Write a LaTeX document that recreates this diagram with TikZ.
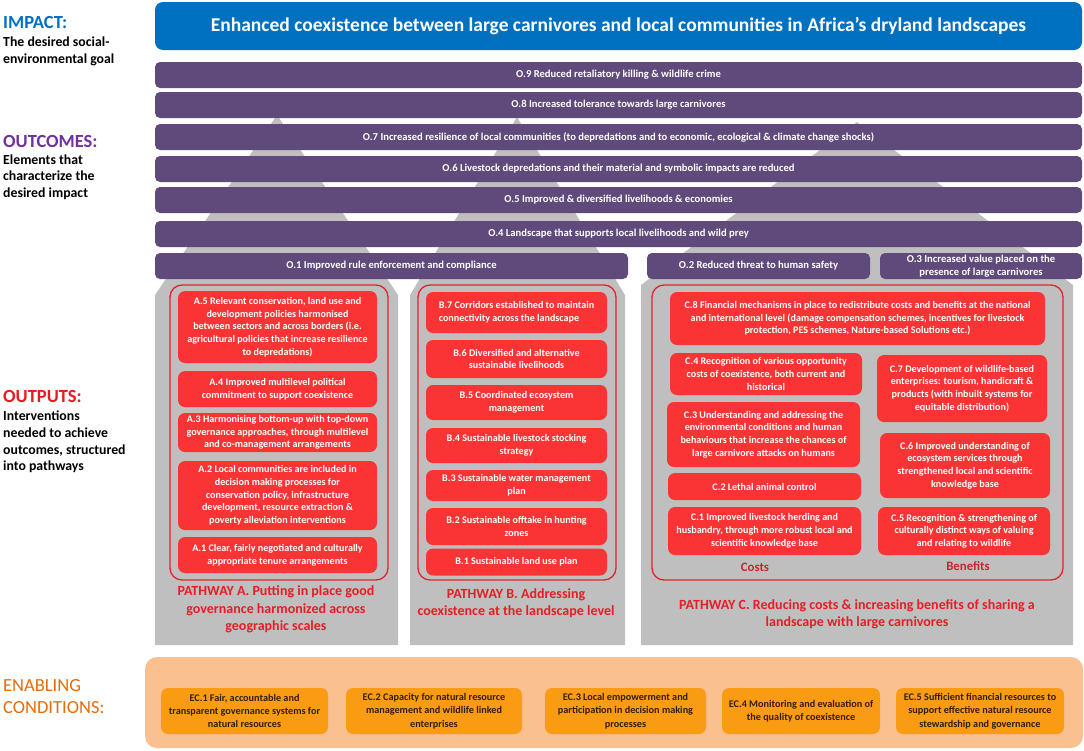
\documentclass[tikz,border=0pt]{standalone}
\usepackage{fontspec}
\setmainfont{Carlito}
\definecolor{goalblue}{RGB}{0,112,192}
\definecolor{outpurple}{RGB}{96,74,123}
\definecolor{pathgrey}{RGB}{191,191,191}
\definecolor{intred}{RGB}{250,52,52}
\definecolor{framered}{RGB}{226,36,44}
\definecolor{pathred}{RGB}{228,30,38}
\definecolor{costred}{RGB}{196,40,46}
\definecolor{enablebg}{RGB}{250,192,144}
\definecolor{ecorange}{RGB}{250,155,20}
\definecolor{ectext}{RGB}{50,30,5}
\definecolor{enabletxt}{RGB}{228,108,10}
\definecolor{impactblue}{RGB}{0,112,192}
\definecolor{outcpurple}{RGB}{112,48,160}
\definecolor{outpred}{RGB}{235,25,30}
\begin{document}
\begin{tikzpicture}[x=1pt,y=-1pt,
  goalbox/.style={fill=goalblue,rounded corners=8pt,text=white,inner sep=0pt,
    font=\bfseries\fontsize{19.5}{23}\selectfont},
  outbar/.style={fill=outpurple,rounded corners=5pt,text=white,inner sep=1pt,
    align=center,minimum height=26pt,font=\bfseries\fontsize{10.6}{13}\selectfont},
  interv/.style={fill=intred,rounded corners=7pt,text=white,inner sep=0.5pt,
    align=center,font=\bfseries\fontsize{10.1}{12.7}\selectfont},
  framebox/.style={draw=framered,line width=1.3pt,rounded corners=12pt,
    minimum height=295pt,inner sep=0pt},
  pathlbl/.style={text=pathred,align=center,inner sep=0pt,
    font=\bfseries\fontsize{14}{17.3}\selectfont},
  sidelbl/.style={text=costred,inner sep=0pt,font=\bfseries\fontsize{12.8}{14}\selectfont},
  ecbox/.style={fill=ecorange,rounded corners=7pt,text=ectext,inner sep=1pt,
    align=center,minimum height=46pt,font=\bfseries\fontsize{10.2}{13.3}\selectfont},
  sidehead/.style={anchor=west,inner sep=0pt,font=\bfseries\fontsize{18.5}{22}\selectfont},
  sidetext/.style={anchor=west,inner sep=0pt,align=left,
    font=\bfseries\fontsize{13.8}{16.7}\selectfont}]
\useasboundingbox (0,0) rectangle (1084,750);
\fill[pathgrey] (155,645) -- (155,295) -- (277,115) -- (398,295) -- (398,645) -- cycle;
\fill[pathgrey] (410,645) -- (410,295) -- (517,117) -- (625,295) -- (625,645) -- cycle;
\fill[pathgrey] (641,645) -- (641,285) -- (857,122) -- (1073,285) -- (1073,645) -- cycle;
\node[goalbox,minimum width=927pt,minimum height=48pt] (goal) at (618.5,26) {Enhanced coexistence between large carnivores and local communities in Africa’s dryland landscapes};
\node[outbar,minimum width=927pt] (o9) at (618.5,75) {O.9 Reduced retaliatory killing \& wildlife crime};
\node[outbar,minimum width=927pt] (o8) at (618.5,105) {O.8 Increased tolerance towards large carnivores};
\node[outbar,minimum width=927pt] (o7) at (618.5,137) {O.7 Increased resilience of local communities (to depredations and to economic, ecological \& climate change shocks)};
\node[outbar,minimum width=927pt] (o6) at (618.5,169) {O.6 Livestock depredations and their material and symbolic impacts are reduced};
\node[outbar,minimum width=927pt] (o5) at (618.5,200) {O.5 Improved \& diversified livelihoods \& economies};
\node[outbar,minimum width=927pt] (o4) at (618.5,234) {O.4 Landscape that supports local livelihoods and wild prey};
\node[outbar,minimum width=473pt] (o1) at (391.5,266) {O.1 Improved rule enforcement and compliance};
\node[outbar,minimum width=223pt] (o2) at (758.5,266) {O.2 Reduced threat to human safety};
\node[outbar,minimum width=202pt] (o3) at (981,266) {O.3 Increased value placed on the\\presence of large carnivores};
\node[framebox,minimum width=218pt] (frameA) at (279,432.5) {};
\node[framebox,minimum width=198pt] (frameB) at (517,432.5) {};
\node[framebox,minimum width=411pt] (frameC) at (857.5,432.5) {};
\node[interv,minimum width=199pt,minimum height=72pt] (a5) at (277.5,327) {A.5 Relevant conservation, land use and\\development policies harmonised\\between sectors and across borders (i.e.\\agricultural policies that increase resilience\\to depredations)};
\node[interv,minimum width=199pt,minimum height=36pt] (a4) at (277.5,389) {A.4 Improved multilevel political\\commitment to support coexistence};
\node[interv,minimum width=199pt,minimum height=39pt] (a3) at (277.5,432.5) {A.3 Harmonising bottom-up with top-down\\governance approaches, through multilevel\\and co-management arrangements};
\node[interv,minimum width=199pt,minimum height=69pt] (a2) at (277.5,495.5) {A.2 Local communities are included in\\decision making processes for\\conservation policy, infrastructure\\development, resource extraction \&\\poverty alleviation interventions};
\node[interv,minimum width=199pt,minimum height=36pt] (a1) at (277.5,555) {A.1 Clear, fairly negotiated and culturally\\appropriate tenure arrangements};
\node[pathlbl] (pathA) at (276,609.5) {PATHWAY A. Putting in place good\\governance harmonized across\\geographic scales};
\node[interv,minimum width=181pt,minimum height=41pt,align=left] (b7) at (516.5,312.5) {B.7 Corridors established to maintain\\connectivity across the landscape};
\node[interv,minimum width=181pt,minimum height=38pt] (b6) at (516.5,359) {B.6 Diversified and alternative\\sustainable livelihoods};
\node[interv,minimum width=181pt,minimum height=35pt] (b5) at (516.5,402.5) {B.5 Coordinated ecosystem\\management};
\node[interv,minimum width=181pt,minimum height=35pt] (b4) at (516.5,445.5) {B.4 Sustainable livestock stocking\\strategy};
\node[interv,minimum width=181pt,minimum height=31pt] (b3) at (516.5,485.5) {B.3 Sustainable water management\\plan};
\node[interv,minimum width=181pt,minimum height=37pt] (b2) at (516.5,526.5) {B.2 Sustainable offtake in hunting\\zones};
\node[interv,minimum width=181pt,minimum height=27pt] (b1) at (516.5,562) {B.1 Sustainable land use plan};
\node[pathlbl] (pathB) at (516,603.5) {PATHWAY B. Addressing\\coexistence at the landscape level};
\node[interv,minimum width=375pt,minimum height=53pt] (c8) at (857.5,318.5) {C.8 Financial mechanisms in place to redistribute costs and benefits at the national\\and international level (damage compensation schemes, incentives for livestock\\protection, PES schemes, Nature-based Solutions etc.)};
\node[interv,minimum width=192pt,minimum height=42pt] (c4) at (766,374) {C.4 Recognition of various opportunity\\costs of coexistence, both current and\\historical};
\node[interv,minimum width=193pt,minimum height=65pt] (c3) at (763.5,434.5) {C.3 Understanding and addressing the\\environmental conditions and human\\behaviours that increase the chances of\\large carnivore attacks on humans};
\node[interv,minimum width=193pt,minimum height=27pt] (c2) at (764.5,486.5) {C.2 Lethal animal control};
\node[interv,minimum width=193pt,minimum height=48pt] (c1) at (764.5,531) {C.1 Improved livestock herding and\\husbandry, through more robust local and\\scientific knowledge base};
\node[interv,minimum width=170pt,minimum height=67pt] (c7) at (962,388.5) {C.7 Development of wildlife-based\\enterprises: tourism, handicraft \&\\products (with inbuilt systems for\\equitable distribution)};
\node[interv,minimum width=170pt,minimum height=65pt] (c6) at (965,465.5) {C.6 Improved understanding of\\ecosystem services through\\strengthened local and scientific\\knowledge base};
\node[interv,minimum width=172pt,minimum height=48pt] (c5) at (964,531) {C.5 Recognition \& strengthening of\\culturally distinct ways of valuing\\and relating to wildlife};
\node[sidelbl] (costs) at (755,567) {Costs};
\node[sidelbl] (benefits) at (968,566) {Benefits};
\node[pathlbl] (pathC) at (857,614.5) {PATHWAY C. Reducing costs \& increasing benefits of sharing a\\landscape with large carnivores};
\node[fill=enablebg,rounded corners=12pt,minimum width=938pt,minimum height=91pt] (enable) at (614,702.5) {};
\node[ecbox,minimum width=167pt] (ec1) at (244.5,711) {EC.1 Fair, accountable and\\transparent governance systems for\\natural resources};
\node[ecbox,minimum width=176pt] (ec2) at (434,711) {EC.2 Capacity for natural resource\\management and wildlife linked\\enterprises};
\node[ecbox,minimum width=161pt] (ec3) at (625.5,711) {EC.3 Local empowerment and\\participation in decision making\\processes};
\node[ecbox,minimum width=158pt] (ec4) at (801,711) {EC.4 Monitoring and evaluation of\\the quality of coexistence};
\node[ecbox,minimum width=168pt] (ec5) at (980,711) {EC.5 Sufficient financial resources to\\support effective natural resource\\stewardship and governance};
\node[sidehead,text=impactblue] (impact) at (3,22) {IMPACT:};
\node[sidetext] (impacttxt) at (3,51) {The desired social-\\environmental goal};
\node[sidehead,text=outcpurple] (outcomes) at (3,141) {OUTCOMES:};
\node[sidetext] (outcomestxt) at (3,177) {Elements that\\characterize the\\desired impact};
\node[sidehead,text=outpred] (outputs) at (3,396) {OUTPUTS:};
\node[sidetext] (outputstxt) at (3,442) {Interventions\\needed to achieve\\outcomes, structured\\into pathways};
\node[sidehead,text=enabletxt,align=left,font=\fontsize{18.5}{22}\selectfont] (enabling) at (3,697) {ENABLING\\CONDITIONS:};
\end{tikzpicture}
\end{document}
